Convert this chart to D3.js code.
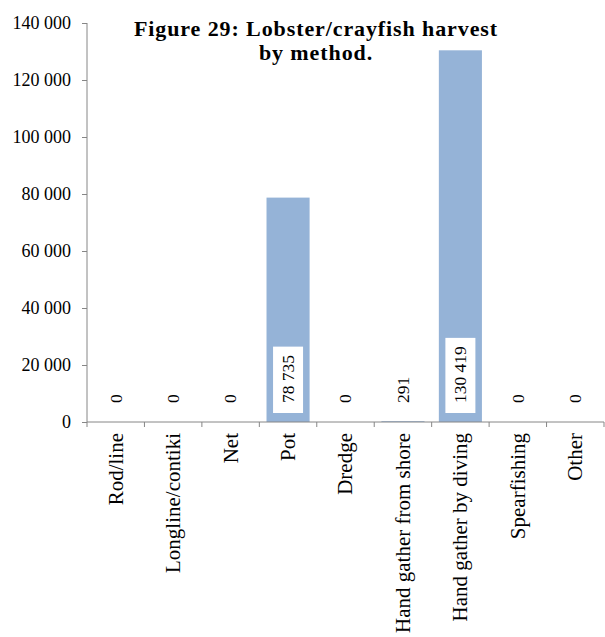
<!DOCTYPE html>
<html>
<head>
<meta charset="utf-8">
<script src="https://cdn.jsdelivr.net/npm/d3@7"></script>
<style>
  body { margin: 0; background: #fff; }
  svg text { font-family: "Liberation Serif", "Times New Roman", serif; fill: #000; }
  .axis path, .axis line { stroke: #868686; }
</style>
</head>
<body>
<div id="chart"></div>
<script>
var categories = ["Rod/line", "Longline/contiki", "Net", "Pot", "Dredge",
    "Hand gather from shore", "Hand gather by diving", "Spearfishing", "Other"];
var values = [0, 0, 0, 78735, 0, 291, 130419, 0, 0];
var valueLabels = ["0", "0", "0", "78 735", "0", "291", "130 419", "0", "0"];
var yTicks = [0, 20000, 40000, 60000, 80000, 100000, 120000, 140000];
var titleLines = ["Figure 29: Lobster/crayfish harvest", "by method."];

var data = categories.map(function (c, i) {
    return { category: c, value: values[i], label: valueLabels[i] };
});

var margin = { top: 23, right: 1, bottom: 215, left: 87 },
    width = 605 - margin.left - margin.right,
    height = 637 - margin.top - margin.bottom;

var svg = d3.select("#chart").append("svg")
    .attr("width", 605)
    .attr("height", 637)
    .append("g")
    .attr("transform", "translate(" + margin.left + "," + margin.top + ")");

var x = d3.scaleBand()
    .domain(categories)
    .range([0, width])
    .paddingInner(0.25)
    .paddingOuter(0.125);

var y = d3.scaleLinear()
    .domain([0, 140000])
    .range([height, 0]);

var fmt = function (d) { return d3.format(",")(d).replace(/,/g, " "); };

// bars
svg.selectAll("rect.bar")
    .data(data)
    .enter().append("rect")
    .attr("class", "bar")
    .style("fill", "#95b3d7")
    .attr("x", function (d) { return x(d.category); })
    .attr("width", x.bandwidth())
    .attr("y", function (d) { return y(d.value); })
    .attr("height", function (d) { return height - y(d.value); });

// y axis
var yAxis = d3.axisLeft(y)
    .tickValues(yTicks)
    .tickSize(5)
    .tickPadding(11)
    .tickFormat(fmt);
var gy = svg.append("g")
    .attr("class", "y axis")
    .call(yAxis);
gy.select(".domain").attr("d", "M0," + y(140000) + "V" + height);
gy.selectAll("text").style("font-size", "18px");

// x axis with ticks at band edges
var gx = svg.append("g")
    .attr("class", "x axis")
    .attr("transform", "translate(0," + height + ")");
gx.append("path")
    .attr("d", "M0,0H" + width)
    .attr("stroke", "#868686")
    .attr("fill", "none");
var step = x.step();
gx.selectAll("line.tick")
    .data(d3.range(categories.length + 1))
    .enter().append("line")
    .attr("x1", function (i) { return i * step; })
    .attr("x2", function (i) { return i * step; })
    .attr("y1", 0)
    .attr("y2", 5);
gx.selectAll("text.cat")
    .data(categories)
    .enter().append("text")
    .attr("class", "cat")
    .attr("transform", function (d) {
        return "translate(" + (x(d) + x.bandwidth() / 2) + ",11) rotate(-90)";
    })
    .attr("dy", "0.33em")
    .style("text-anchor", "end")
    .style("font-size", "21px")
    .text(function (d) { return d; });

// value labels with white boxes
var labels = svg.selectAll("g.vlabel")
    .data(data)
    .enter().append("g")
    .attr("class", "vlabel")
    .attr("transform", function (d) {
        return "translate(" + (x(d.category) + x.bandwidth() / 2) + "," + (height - 19) + ") rotate(-90)";
    });
labels.append("text")
    .attr("dy", "0.33em")
    .style("text-anchor", "start")
    .style("font-size", "17.5px")
    .text(function (d) { return d.label; });
labels.each(function (d) {
    if (d.value < 20000) return;
    var g = d3.select(this);
    var bb = g.select("text").node().getBBox();
    g.insert("rect", "text")
        .attr("x", bb.x - 10)
        .attr("y", -15)
        .attr("width", bb.width + 18)
        .attr("height", 30)
        .style("fill", "#fff");
});

// title
svg.append("text")
    .attr("x", 316 - margin.left)
    .attr("y", 36 - margin.top)
    .style("text-anchor", "middle")
    .style("font-size", "22px")
    .style("font-weight", "bold")
    .style("letter-spacing", "0.9px")
    .selectAll("tspan")
    .data(titleLines)
    .enter().append("tspan")
    .attr("x", 316 - margin.left)
    .attr("dy", function (d, i) { return i === 0 ? 0 : 24; })
    .text(function (d) { return d; });
</script>
</body>
</html>
